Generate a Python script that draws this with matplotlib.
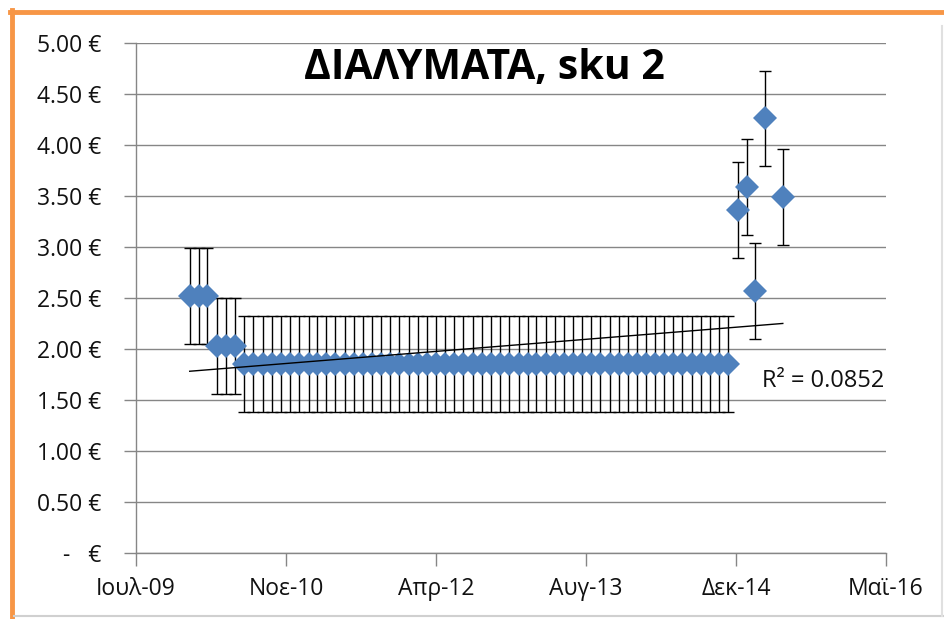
import numpy as np
import pandas as pd
import matplotlib
matplotlib.use('Agg')
import matplotlib.pyplot as plt
import matplotlib.dates as mdates
from matplotlib.lines import Line2D

plt.rcParams['font.family'] = ['Open Sans', 'DejaVu Sans']

# monthly price samples (one month, May-15, has no value)
dates = list(pd.date_range('2010-01-01', '2015-04-01', freq='MS')) + [pd.Timestamp('2015-06-01')]
prices = [2.52, 2.52, 2.52,
          2.03, 2.03, 2.03,
          1.85, 1.85, 1.85, 1.85, 1.85, 1.85, 1.85, 1.85, 1.85, 1.85,
          1.85, 1.85, 1.85, 1.85, 1.85, 1.85, 1.85, 1.85, 1.85, 1.85,
          1.85, 1.85, 1.85, 1.85, 1.85, 1.85, 1.85, 1.85, 1.85, 1.85,
          1.85, 1.85, 1.85, 1.85, 1.85, 1.85, 1.85, 1.85, 1.85, 1.85,
          1.85, 1.85, 1.85, 1.85, 1.85, 1.85, 1.85, 1.85, 1.85, 1.85,
          1.85, 1.85, 1.85, 1.85,
          3.36, 3.59, 2.57, 4.26, 3.49]
err = 0.47

xtick_labels = ['Ιουλ-09', 'Νοε-10', 'Απρ-12', 'Αυγ-13', 'Δεκ-14', 'Μαϊ-16']
ytick_labels = ['-   €', '0.50 €', '1.00 €', '1.50 €', '2.00 €', '2.50 €',
                '3.00 €', '3.50 €', '4.00 €', '4.50 €', '5.00 €']
r2_text = 'R² = 0.0852'
title = 'ΔΙΑΛΥΜΑΤΑ, sku 2'

W, H = 944, 619
fig = plt.figure(figsize=(W / 100, H / 100), dpi=100)
ax = fig.add_axes([136 / W, 1 - 553 / H, 750 / W, 510 / H])

x = mdates.date2num(dates)
y = np.array(prices)

grey = '#868686'
blue = '#4F81BD'

ax.errorbar(x, y, yerr=err, fmt='none', ecolor='black', elinewidth=1.0,
            capsize=4, capthick=1.0, zorder=3)
ax.plot(x, y, 'D', color=blue, markersize=12, markeredgewidth=0, zorder=4)

# linear trendline
k, b = np.polyfit(x, y, 1)
xx = np.array([x[0], x[-1]])
ax.plot(xx, k * xx + b, color='black', lw=1.0, zorder=5)

x0 = mdates.date2num(pd.Timestamp('2009-07-06'))
xticks = [x0 + 500 * i for i in range(6)]
ax.set_xlim(xticks[0], xticks[-1])
ax.set_ylim(0, 5)
ax.set_xticks(xticks)
ax.set_xticklabels(xtick_labels)
ax.set_yticks(np.arange(0, 5.01, 0.5))
ax.set_yticklabels(ytick_labels)

ax.yaxis.grid(True, color=grey, lw=1.0)
ax.set_axisbelow(True)
for s in ['top', 'right']:
    ax.spines[s].set_visible(False)
for s in ['left', 'bottom']:
    ax.spines[s].set_color(grey)
    ax.spines[s].set_linewidth(1.0)
ax.tick_params(axis='both', colors=grey, length=9, width=1.0, direction='out',
               labelsize=16.5, labelcolor='#111111')
ax.tick_params(axis='y', pad=16)
ax.tick_params(axis='x', pad=8)

ax.text(762 / W, 1 - 381 / H, r2_text, transform=fig.transFigure,
        fontsize=17, ha='left', va='center', color='#111111')
fig.text(484 / W, 1 - 68 / H, title, fontsize=29.5, fontweight='bold',
         ha='center', va='center')

# chart frame: orange on left/top, light grey on right/bottom
fig.add_artist(Line2D([12 / W, 12 / W], [0, 1 - 10 / H], transform=fig.transFigure,
                      color='#F79646', lw=3.5))
fig.add_artist(Line2D([10 / W, 1], [1 - 12 / H, 1 - 12 / H], transform=fig.transFigure,
                      color='#F79646', lw=3.5))
fig.add_artist(Line2D([14 / W, 1], [1 - 616 / H, 1 - 616 / H], transform=fig.transFigure,
                      color='#D0D0D0', lw=1.5))
fig.add_artist(Line2D([942 / W, 942 / W], [1 - 616 / H, 1 - 26 / H], transform=fig.transFigure,
                      color='#E0E0E0', lw=1.5))

fig.savefig('out.png', dpi=100)
